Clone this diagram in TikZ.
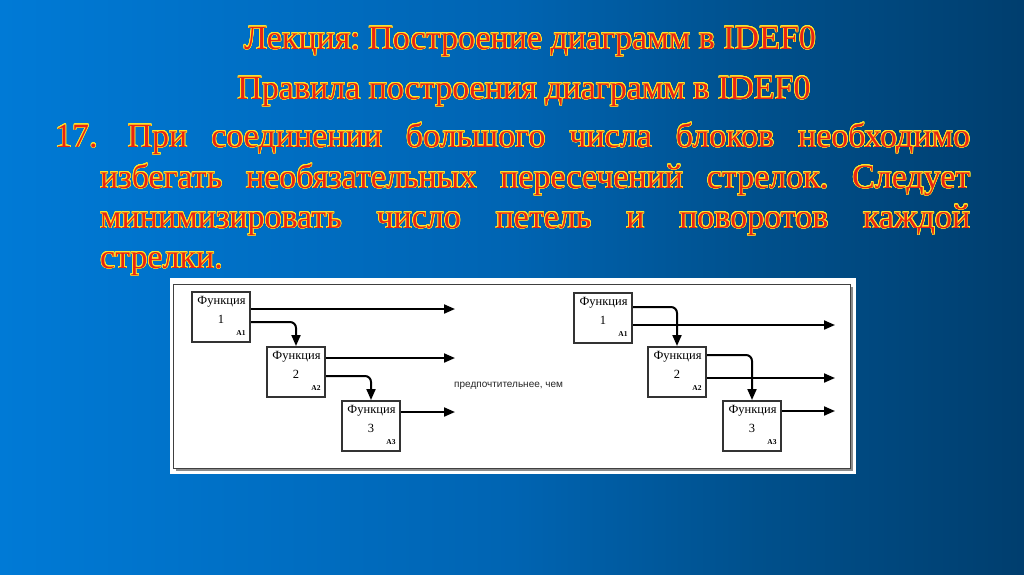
\documentclass[tikz,border=0pt]{standalone}
\usepackage{fontspec}
\setmainfont{Liberation Serif}
\newfontfamily\sansf{Liberation Sans}
\usepackage{contour}
\contourlength{0.6pt}
\contournumber{24}
\usetikzlibrary{arrows.meta,calc}
\definecolor{txtfill}{RGB}{232,36,20}
\definecolor{txtline}{RGB}{255,232,40}
\definecolor{bgA}{RGB}{0,122,214}
\definecolor{bgB}{RGB}{0,116,204}
\definecolor{bgC}{RGB}{0,100,178}
\definecolor{bgD}{RGB}{0,80,140}
\definecolor{bgE}{RGB}{0,62,110}
\pgfdeclarehorizontalshading{bgshade}{100bp}{color(0bp)=(bgA); color(25bp)=(bgA); color(32bp)=(bgB); color(50bp)=(bgC); color(62bp)=(bgD); color(75bp)=(bgE); color(100bp)=(bgE)}
\newcommand{\ot}[1]{\contour{txtline}{\textcolor{txtfill}{#1}}}
\frenchspacing
\tikzset{
  ttl/.style={inner sep=0pt, font=\fontsize{34}{34}\selectfont},
  fbox/.style={draw=black!80, line width=2pt, fill=white, minimum width=58pt, minimum height=50pt, inner sep=0pt},
  ftxt/.style={inner sep=0pt, font=\fontsize{12.5}{12.5}\selectfont},
  fid/.style={inner sep=0pt, font=\bfseries\fontsize{7.5}{7.5}\selectfont},
  arr/.style={draw=black, line width=2pt, rounded corners=6pt, -{Triangle[length=11pt,width=9pt]}},
}
\newcommand{\fbx}[4]{%
  \node[fbox] (#1) at (#2,#3) {};
  \node[ftxt] (#1f) at ($(#1.north)+(0.5,11)$) {Функция};
  \node[ftxt] (#1n) at ($(#1.north)+(0,28)$) {#4};
  \node[fid] (#1a) at ($(#1.south east)+(-10,-10)$) {A#4};
}
\begin{document}
\begin{tikzpicture}[x=1pt,y=-1pt]
\useasboundingbox (0,0) rectangle (1024,574);
\shade[shading=bgshade] (0,0) rectangle (1024,574);
% titles
\node[ttl, anchor=base] (t1) at (530,49) {\ot{Лекция: Построение диаграмм в IDEF0}};
\node[ttl, anchor=base] (t2) at (524,99) {\ot{Правила построения диаграмм в IDEF0}};
% body
\node[ttl, anchor=base west] (l1) at (55,147) {\ot{\makebox[915pt][s]{17.\hspace{6pt} При соединении большого числа блоков необходимо}}};
\node[ttl, anchor=base west] (l2) at (100,188) {\ot{\makebox[870pt][s]{избегать необязательных пересечений стрелок. Следует}}};
\node[ttl, anchor=base west] (l3) at (100,228) {\ot{\makebox[870pt][s]{минимизировать число петель и поворотов каждой}}};
\node[ttl, anchor=base west] (l4) at (100,268) {\ot{стрелки.}};
% panel
\fill[white] (170,278) rectangle (856,474);
\fill[black!45] (176,287) rectangle (853,471);
\draw[fill=white, draw=black!75, line width=1pt] (173.5,284.5) rectangle (850.5,468.5);
% left diagram (node outer size includes border)
\fbx{b1L}{221}{317}{1}
\fbx{b2L}{296}{372}{2}
\fbx{b3L}{371}{426}{3}
\coordinate (e1L) at (455,309);
\coordinate (e2L) at (455,358);
\coordinate (e3L) at (455,412);
\draw[arr] (b1L.east |- e1L) -- (e1L);
\draw[arr] ($(b1L.north east)+(0,31)$) -| (b2L.north);
\draw[arr] (b2L.east |- e2L) -- (e2L);
\draw[arr] ($(b2L.north east)+(0,30)$) -| (b3L.north);
\draw[arr] (b3L.east |- e3L) -- (e3L);
% middle text
\node[font=\sansf\fontsize{10}{10}\selectfont, text=black!85, anchor=west, inner sep=0pt] (pref) at (454,386) {предпочтительнее, чем};
% right diagram
\fbx{b1R}{603}{318}{1}
\fbx{b2R}{677}{372}{2}
\fbx{b3R}{752}{426}{3}
\coordinate (e1R) at (835,325);
\coordinate (e2R) at (835,378);
\coordinate (e3R) at (835,411);
\draw[arr] ($(b1R.north east)+(0,15)$) -| (b2R.north);
\draw[arr] (b1R.east |- e1R) -- (e1R);
\draw[arr] ($(b2R.north east)+(0,9)$) -| (b3R.north);
\draw[arr] (b2R.east |- e2R) -- (e2R);
\draw[arr] (b3R.east |- e3R) -- (e3R);
\end{tikzpicture}
\end{document}
